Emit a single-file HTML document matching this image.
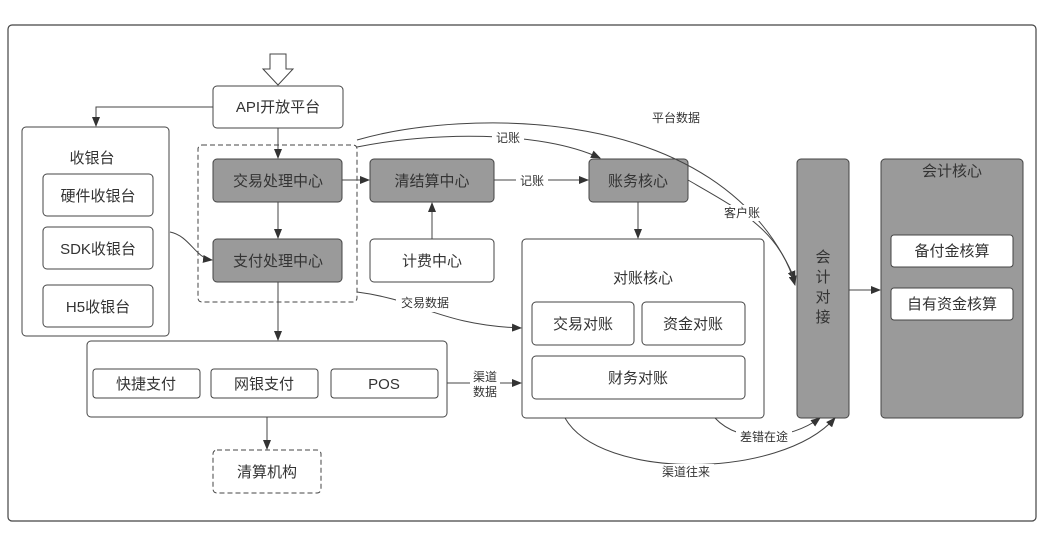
<!DOCTYPE html>
<html><head><meta charset="utf-8"><style>
body{margin:0;background:#fff}
text{font-family:"Liberation Sans","Noto Sans CJK SC",sans-serif;fill:#333}
</style></head><body>
<svg width="1047" height="548" viewBox="0 0 1047 548" xmlns="http://www.w3.org/2000/svg">
<defs><marker id="a" markerWidth="10" markerHeight="8" refX="9" refY="4" orient="auto" markerUnits="userSpaceOnUse"><path d="M0,0 L10,4 L0,8 Z" fill="#333"/></marker></defs>
<rect x="8" y="25" width="1028" height="496" rx="4" fill="#fff" stroke="#444" stroke-width="1.2"/>
<g stroke="#444" stroke-width="1" fill="none">
<path d="M270,54 h16 v15 h7 l-15,16 l-15,-16 h7 z" fill="#fff"/>
<rect x="22" y="127" width="147" height="209" rx="4" fill="#fff"/>
<rect x="198" y="145" width="159" height="157" rx="4" stroke-dasharray="5,3"/>
<rect x="87" y="341" width="360" height="76" rx="4" fill="#fff"/>
<rect x="522" y="239" width="242" height="179" rx="4" fill="#fff"/>
<rect x="797" y="159" width="52" height="259" rx="4" fill="#9a9a9a"/>
<rect x="881" y="159" width="142" height="259" rx="4" fill="#9a9a9a"/>
</g>
<g stroke="#444" stroke-width="1" fill="#fff">
<rect x="213" y="86" width="130" height="42" rx="4"/>
<rect x="43" y="174" width="110" height="42" rx="4"/>
<rect x="43" y="227" width="110" height="42" rx="4"/>
<rect x="43" y="285" width="110" height="42" rx="4"/>
<rect x="213" y="159" width="129" height="43" rx="4" fill="#9a9a9a"/>
<rect x="213" y="239" width="129" height="43" rx="4" fill="#9a9a9a"/>
<rect x="370" y="159" width="124" height="43" rx="4" fill="#9a9a9a"/>
<rect x="370" y="239" width="124" height="43" rx="4"/>
<rect x="589" y="159" width="99" height="43" rx="4" fill="#9a9a9a"/>
<rect x="532" y="302" width="102" height="43" rx="4"/>
<rect x="642" y="302" width="103" height="43" rx="4"/>
<rect x="532" y="356" width="213" height="43" rx="4"/>
<rect x="891" y="235" width="122" height="32" rx="3"/>
<rect x="891" y="288" width="122" height="32" rx="3"/>
<rect x="93" y="369" width="107" height="29" rx="3"/>
<rect x="211" y="369" width="107" height="29" rx="3"/>
<rect x="331" y="369" width="107" height="29" rx="3"/>
<rect x="213" y="450" width="108" height="43" rx="4" stroke-dasharray="5,3"/>
</g>
<g stroke="#444" stroke-width="1" fill="none" marker-end="url(#a)">
<path d="M213,107 H96 V126"/>
<path d="M278,128 V158"/>
<path d="M278,202 V238"/>
<path d="M342,180 H369"/>
<path d="M432,239 V203"/>
<path d="M494,180 H588"/>
<path d="M638,202 V238"/>
<path d="M170,232 C190,236 195,258 212,260"/>
<path d="M278,282 V340"/>
<path d="M267,417 V449"/>
<path d="M357,292 C420,300 440,325 521,328"/>
<path d="M447,383 H521"/>
<path d="M357,147 C430,132 540,130 600,158"/>
<path d="M357,140 C460,110 720,100 795,280"/>
<path d="M688,180 C740,210 780,230 795,285"/>
<path d="M849,290 H880"/>
<path d="M715,418 C740,445 790,440 820,418"/>
<path d="M565,418 C600,480 780,480 835,418"/>
</g>
<g font-size="15" text-anchor="middle">
<text x="278" y="112">API开放平台</text>
<text x="92" y="163">收银台</text>
<text x="98" y="201">硬件收银台</text>
<text x="98" y="254">SDK收银台</text>
<text x="98" y="312">H5收银台</text>
<text x="278" y="186">交易处理中心</text>
<text x="278" y="266">支付处理中心</text>
<text x="432" y="186">清结算中心</text>
<text x="432" y="266">计费中心</text>
<text x="638" y="186">账务核心</text>
<text x="643" y="283">对账核心</text>
<text x="583" y="329">交易对账</text>
<text x="693" y="329">资金对账</text>
<text x="638" y="383">财务对账</text>
<text x="952" y="176">会计核心</text>
<text x="952" y="256">备付金核算</text>
<text x="952" y="309">自有资金核算</text>
<text x="146" y="389">快捷支付</text>
<text x="264" y="389">网银支付</text>
<text x="384" y="389">POS</text>
<text x="267" y="477">清算机构</text>
<text x="823" y="262">会</text><text x="823" y="282">计</text><text x="823" y="302">对</text><text x="823" y="322">接</text>
</g>
<g font-size="12" text-anchor="middle">
<rect x="492" y="130" width="32" height="14" fill="#fff"/><text x="508" y="142">记账</text>
<rect x="648" y="111" width="56" height="14" fill="#fff"/><text x="676" y="122">平台数据</text>
<rect x="516" y="174" width="32" height="14" fill="#fff"/><text x="532" y="185">记账</text>
<rect x="718" y="205" width="48" height="16" fill="#fff"/><text x="742" y="217">客户账</text>
<rect x="396" y="296" width="58" height="16" fill="#fff"/><text x="425" y="307">交易数据</text>
<rect x="470" y="370" width="30" height="30" fill="#fff"/><text x="485" y="381">渠道</text><text x="485" y="396">数据</text>
<rect x="736" y="429" width="56" height="16" fill="#fff"/><text x="764" y="441">差错在途</text>
<rect x="658" y="464" width="56" height="16" fill="#fff"/><text x="686" y="476">渠道往来</text>
</g>
</svg>
</body></html>
